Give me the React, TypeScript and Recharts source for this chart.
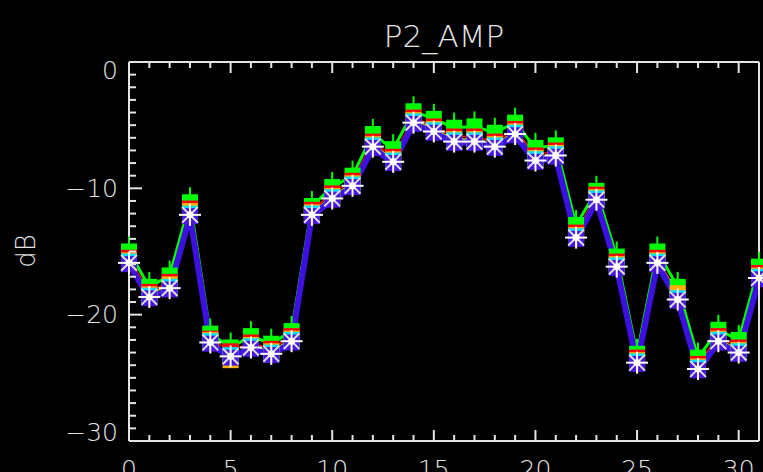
import { Line, LineChart, XAxis, YAxis } from "recharts";

// sample index along the x axis
const idx = [0, 1, 2, 3, 4, 5, 6, 7, 8, 9, 10, 11, 12, 13, 14, 15, 16, 17, 18, 19, 20, 21, 22, 23, 24, 25, 26, 27, 28, 29, 30, 31];

// P2 amplitude in dB, one list per overplotted trace
const greenDb = [-15.0, -17.8, -16.9, -11.1, -21.5, -22.6, -21.7, -22.3, -21.3, -11.4, -9.9, -9.0, -5.7, -6.9, -3.9, -4.5, -5.2, -5.1, -5.6, -4.8, -6.8, -6.6, -12.9, -10.2, -15.4, -23.1, -15.0, -17.8, -23.4, -21.2, -22.0, -16.2];
const redDb = [-15.5, -18.2, -17.4, -11.6, -21.9, -22.9, -22.2, -22.7, -21.7, -11.7, -10.4, -9.4, -6.3, -7.5, -4.4, -5.1, -5.9, -5.9, -6.3, -5.3, -7.4, -7.0, -13.5, -10.5, -15.8, -23.4, -15.5, -18.4, -23.9, -21.7, -22.6, -16.7];
const orangeDb = [-15.7, -18.4, -17.6, -11.8, -22.0, -23.6, -22.4, -22.9, -21.9, -11.9, -10.6, -9.6, -6.5, -7.7, -4.6, -5.3, -6.1, -6.1, -6.5, -5.5, -7.6, -7.2, -13.7, -10.7, -16.0, -23.6, -15.7, -18.3, -24.1, -21.9, -22.8, -16.9];
const cyanDb = [-15.8, -18.5, -17.8, -12.0, -22.1, -23.2, -22.5, -23.0, -22.0, -12.0, -10.7, -9.7, -6.6, -7.8, -4.7, -5.4, -6.2, -6.2, -6.6, -5.6, -7.7, -7.3, -13.8, -10.8, -16.1, -23.7, -15.8, -18.7, -24.2, -22.0, -22.9, -17.0];
const blueDb = [-16.0, -18.7, -18.0, -12.2, -22.3, -23.4, -22.7, -23.2, -22.2, -12.2, -10.9, -9.9, -6.8, -8.0, -4.9, -5.6, -6.4, -6.4, -6.8, -5.8, -7.9, -7.5, -14.0, -11.0, -16.3, -23.9, -16.0, -18.9, -24.4, -22.2, -23.1, -17.2];
const starDb = [-15.9, -18.6, -17.9, -12.1, -22.2, -23.3, -22.6, -23.1, -22.1, -12.1, -10.8, -9.8, -6.7, -7.9, -4.8, -5.5, -6.3, -6.3, -6.7, -5.7, -7.8, -7.4, -13.9, -10.9, -16.2, -23.8, -15.9, -18.8, -24.3, -22.1, -23.0, -17.1];

const xTicks = idx.slice(0, 31);
const yTicks = [0, -1, -2, -3, -4, -5, -6, -7, -8, -9, -10, -11, -12, -13, -14, -15, -16, -17, -18, -19, -20, -21, -22, -23, -24, -25, -26, -27, -28, -29, -30];

const rows = idx.map((x, i) => ({
  x,
  green: greenDb[i],
  red: redDb[i],
  orange: orangeDb[i],
  cyan: cyanDb[i],
  blue: blueDb[i],
  star: starDb[i],
}));

const FG = "#e4e4e4";
const FONT = "'DejaVu Sans', sans-serif";

function BottomTick({ x, y, payload }: any) {
  const v = payload.value;
  const major = v % 5 === 0;
  return (
    <g>
      <line x1={x} y1={y} x2={x} y2={y - (major ? 11 : 6)} stroke={FG} strokeWidth={2} />
      {major && (
        <text x={x} y={y + 37} textAnchor="middle" fill={FG} fontSize={25} fontFamily={FONT} fontWeight={200}>
          {v}
        </text>
      )}
    </g>
  );
}

function TopTick({ x, y, payload }: any) {
  const major = payload.value % 5 === 0;
  return <line x1={x} y1={y} x2={x} y2={y + (major ? 11 : 6)} stroke={FG} strokeWidth={2} />;
}

function LeftTick({ x, y, payload }: any) {
  const v = payload.value;
  const major = v % 10 === 0;
  // end labels are nudged to stay inside the frame
  const shift = v === 0 ? 8 : v === -30 ? -9 : 0;
  return (
    <g>
      <line x1={x} y1={y} x2={x + (major ? 13 : 7)} y2={y} stroke={FG} strokeWidth={2} />
      {major && (
        <text x={x - 11} y={y + shift} textAnchor="end" dominantBaseline="central" fill={FG} fontSize={25} fontFamily={FONT} fontWeight={200}>
          {v === 0 ? "0" : "\u2212" + Math.abs(v)}
        </text>
      )}
    </g>
  );
}

function RightTick({ x, y, payload }: any) {
  const major = payload.value % 10 === 0;
  return <line x1={x} y1={y} x2={x - (major ? 13 : 7)} y2={y} stroke={FG} strokeWidth={2} />;
}

function squareDot(fill: string, mast = false) {
  return (p: any) => (
    <g key={p.index}>
      {mast && <line x1={p.cx} y1={p.cy - 15} x2={p.cx} y2={p.cy} stroke={fill} strokeWidth={2} />}
      <rect x={p.cx - 8} y={p.cy - 8} width={16} height={16} fill={fill} />
    </g>
  );
}

function starDot(p: any) {
  const r = 11;
  const d = r * 0.72;
  const { cx, cy } = p;
  return (
    <g key={p.index}>
      <line x1={cx - r} y1={cy} x2={cx + r} y2={cy} stroke="#ffffff" strokeWidth={2} />
      <line x1={cx} y1={cy - r} x2={cx} y2={cy + r} stroke="#ffffff" strokeWidth={2} />
      <line x1={cx - d} y1={cy - d} x2={cx + d} y2={cy + d} stroke="#dddddd" strokeWidth={2} />
      <line x1={cx - d} y1={cy + d} x2={cx + d} y2={cy - d} stroke="#dddddd" strokeWidth={2} />
      <circle cx={cx} cy={cy} r={3.5} fill="#ffffff" />
    </g>
  );
}

export default function App() {
  return (
    <div style={{ position: "fixed", left: 0, top: 0, width: 763, height: 472, background: "#000", overflow: "hidden" }}>
      <div style={{ position: "absolute", left: 344, width: 200, top: 16, textAlign: "center", color: FG, fontFamily: FONT, fontWeight: 200, fontSize: 31, lineHeight: "40px" }}>
        P2_AMP
      </div>
      <div style={{ position: "absolute", left: 26, top: 251, transform: "translate(-50%, -50%) rotate(-90deg)", color: FG, fontFamily: FONT, fontWeight: 200, fontSize: 26, lineHeight: "30px" }}>
        dB
      </div>
      <LineChart width={763} height={472} data={rows} margin={{ top: 61, right: 3, bottom: 30, left: 128 }}>
        <XAxis dataKey="x" type="number" domain={[0, 31]} ticks={xTicks} interval={0} height={1} tickSize={0} tickMargin={0} tickLine={false} tick={<BottomTick />} axisLine={{ stroke: FG, strokeWidth: 2 }} />
        <XAxis xAxisId="top" orientation="top" dataKey="x" type="number" domain={[0, 31]} ticks={xTicks} interval={0} height={1} tickSize={0} tickMargin={0} tickLine={false} tick={<TopTick />} axisLine={{ stroke: FG, strokeWidth: 2 }} />
        <YAxis type="number" domain={[-30, 0]} ticks={yTicks} interval={0} width={1} tickSize={0} tickMargin={0} tickLine={false} tick={<LeftTick />} axisLine={{ stroke: FG, strokeWidth: 2 }} />
        <YAxis yAxisId="right" orientation="right" type="number" domain={[-30, 0]} ticks={yTicks} interval={0} width={1} tickSize={0} tickMargin={0} tickLine={false} tick={<RightTick />} axisLine={{ stroke: FG, strokeWidth: 2 }} />
        <Line dataKey="green" stroke="#00ff00" strokeWidth={3} dot={squareDot("#00ff00", true)} isAnimationActive={false} />
        <Line dataKey="red" stroke="#ff0000" strokeWidth={1.5} dot={squareDot("#ff0000")} isAnimationActive={false} />
        <Line dataKey="orange" stroke="#ffa500" strokeWidth={1.5} dot={squareDot("#ffb000")} isAnimationActive={false} />
        <Line dataKey="cyan" stroke="#00ffff" strokeWidth={1.5} dot={squareDot("#00e0ff")} isAnimationActive={false} />
        <Line dataKey="blue" stroke="#3c10e0" strokeWidth={6} dot={squareDot("#4a18dc")} isAnimationActive={false} />
        <Line dataKey="star" stroke="transparent" strokeWidth={0} dot={starDot} isAnimationActive={false} />
      </LineChart>
    </div>
  );
}
